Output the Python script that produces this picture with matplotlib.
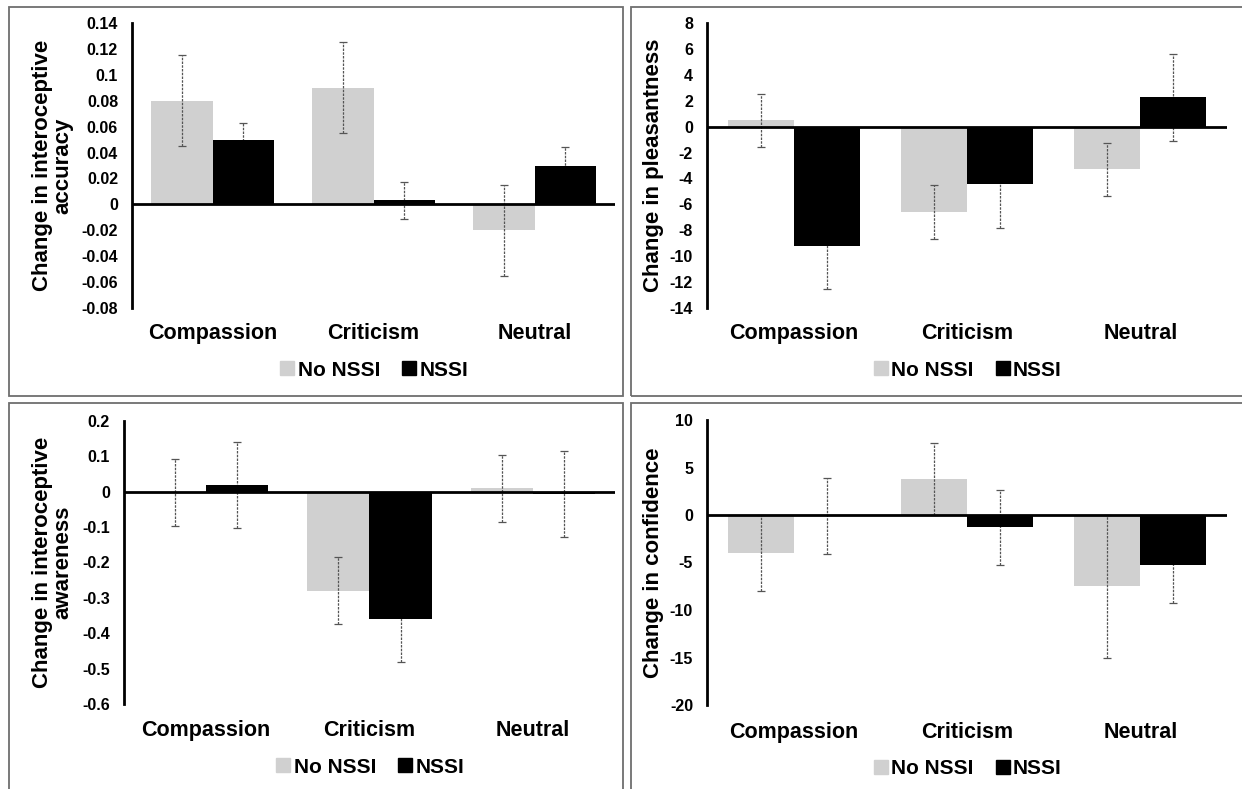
import matplotlib.pyplot as plt
from matplotlib.patches import Rectangle
from matplotlib.lines import Line2D
from matplotlib.ticker import FuncFormatter
import numpy as np

plt.rcParams['font.family'] = ['Liberation Sans', 'DejaVu Sans']
plt.rcParams['font.weight'] = 'bold'
plt.rcParams['axes.unicode_minus'] = False

categories = ['Compassion', 'Criticism', 'Neutral']
groups = ['No NSSI', 'NSSI']

# interoceptive accuracy
acc_no = [0.08, 0.09, -0.02]
acc_no_err = [0.035, 0.035, 0.035]
acc_nssi = [0.05, 0.003, 0.03]
acc_nssi_err = [0.013, 0.014, 0.014]

# pleasantness
pl_no = [0.5, -6.6, -3.3]
pl_no_err = [2.05, 2.07, 2.07]
pl_nssi = [-9.2, -4.45, 2.25]
pl_nssi_err = [3.35, 3.4, 3.35]

# interoceptive awareness
aw_no = [-0.003, -0.28, 0.01]
aw_no_err = [0.095, 0.095, 0.095]
aw_nssi = [0.02, -0.36, -0.006]
aw_nssi_err = [0.122, 0.122, 0.122]

# confidence
cf_no = [-4.0, 3.8, -7.5]
cf_no_err = [4.05, 3.8, 7.55]
cf_nssi = [-0.15, -1.3, -5.3]
cf_nssi_err = [4.0, 3.97, 4.0]

GRAY = '#d0d0d0'
W, H = 1242, 789

fig = plt.figure(figsize=(W / 100, H / 100), dpi=100)


def px_axes(left, right, top, bottom):
    return fig.add_axes([left / W, 1 - bottom / H, (right - left) / W, (bottom - top) / H])


def fmt(v, pos):
    v = round(v, 4)
    if abs(v) < 1e-9:
        return '0'
    return f'{v:g}'


def panel(ax, no, no_err, nssi, nssi_err, ylim, step, ylabel, ylab_x, cat_y, leg_y):
    x = np.arange(len(categories))
    w = 0.38
    ax.bar(x - w / 2, no, w, color=GRAY, zorder=2)
    ax.bar(x + w / 2, nssi, w, color='black', zorder=2)
    # grey bars show their whiskers through, black bars hide them
    for xs, vals, errs, z in [(x - w / 2, no, no_err, 3), (x + w / 2, nssi, nssi_err, 1.5)]:
        eb = ax.errorbar(xs, vals, yerr=errs, fmt='none', ecolor='#555555',
                         elinewidth=0.9, capsize=3, capthick=0.9, zorder=z)
        for lc in eb[2]:
            lc.set_linestyle((0, (2, 1)))
    ax.axhline(0, color='black', lw=2, zorder=4)
    ax.set_xlim(-0.5, 2.5)
    ax.set_ylim(*ylim)
    ax.set_yticks(np.arange(ylim[0], ylim[1] + step / 2, step))
    ax.yaxis.set_major_formatter(FuncFormatter(fmt))
    ax.tick_params(axis='y', length=0, pad=10, labelsize=11.5)
    ax.set_xticks([])
    for s in ['top', 'right', 'bottom']:
        ax.spines[s].set_visible(False)
    ax.spines['left'].set_linewidth(2)
    ax.spines['left'].set_zorder(5)
    ax.set_ylabel(ylabel, fontsize=16, fontweight='bold', va='center',
                  ha='center', linespacing=1.0)
    ax.yaxis.set_label_coords(ylab_x, 0.5)
    for xi, c in zip(x, categories):
        ax.text(xi, cat_y, c, transform=ax.get_xaxis_transform(), ha='center',
                va='center', fontsize=15.5, fontweight='bold')
    handles = [Line2D([], [], ls='none', marker='s', markersize=10, color=GRAY),
               Line2D([], [], ls='none', marker='s', markersize=10, color='black')]
    ax.legend(handles, groups, loc='center', bbox_to_anchor=(0.5, leg_y), ncol=2,
              frameon=False, fontsize=15, handletextpad=0.1, columnspacing=1.0,
              handlelength=0.8, borderpad=0)


ax1 = px_axes(132, 615, 23, 308)
panel(ax1, acc_no, acc_no_err, acc_nssi, acc_nssi_err, (-0.08, 0.14), 0.02,
      'Change in interoceptive\naccuracy', -0.164, -0.09, -0.218)

ax2 = px_axes(707, 1227, 23, 308)
panel(ax2, pl_no, pl_no_err, pl_nssi, pl_nssi_err, (-14, 8), 2,
      'Change in pleasantness', -0.102, -0.09, -0.218)

ax3 = px_axes(124, 615, 421, 704)
panel(ax3, aw_no, aw_no_err, aw_nssi, aw_nssi_err, (-0.6, 0.2), 0.1,
      'Change in interoceptive\nawareness', -0.145, -0.095, -0.223)

ax4 = px_axes(707, 1227, 420, 705)
panel(ax4, cf_no, cf_no_err, cf_nssi, cf_nssi_err, (-20, 10), 5,
      'Change in confidence', -0.102, -0.095, -0.223)

# panel frames
for (l, t, r, b) in [(9, 7, 623, 396), (631, 7, 1250, 396),
                     (9, 403, 623, 800), (631, 403, 1250, 800)]:
    fig.patches.append(Rectangle((l / W, 1 - b / H), (r - l) / W, (b - t) / H,
                                 transform=fig.transFigure, fill=False,
                                 edgecolor='#6e6e6e', lw=1.3))

fig.savefig('out.png', dpi=100)
